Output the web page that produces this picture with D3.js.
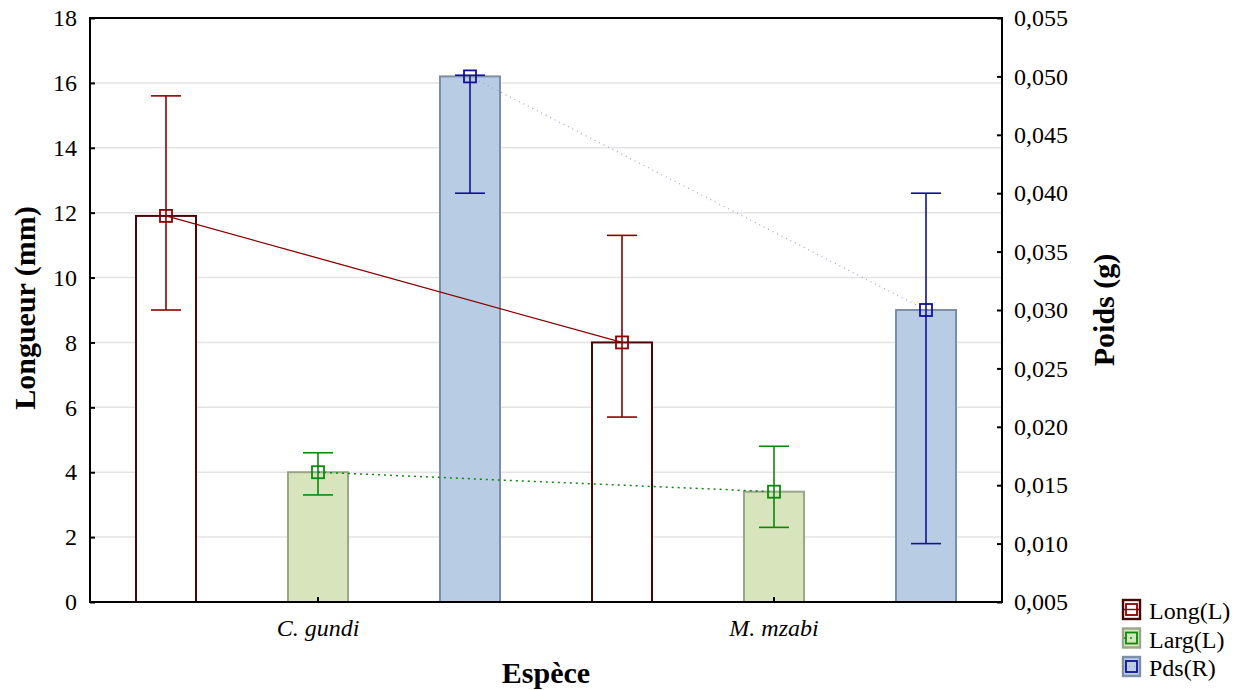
<!DOCTYPE html>
<html>
<head>
<meta charset="utf-8">
<script src="https://cdn.jsdelivr.net/npm/d3@7"></script>
<style>
  html, body { margin: 0; padding: 0; background: #fff; }
  svg { display: block; font-family: "Liberation Serif", "Times New Roman", serif; }
  svg text { font-family: "Liberation Serif", "Times New Roman", serif; }
</style>
</head>
<body>
<svg id="chart" width="1246" height="690"></svg>
<script>
// Species on the x axis
const species = ["C. gundi", "M. mzabi"];
// Series (L = left axis, R = right axis)
const seriesNames = ["Long(L)", "Larg(L)", "Pds(R)"];

// Length (mm): mean and error interval
const longMean = [11.9, 8.0];
const longLow  = [9.0, 5.7];
const longHigh = [15.6, 11.3];

// Width (mm): mean and error interval
const largMean = [4.0, 3.4];
const largLow  = [3.3, 2.3];
const largHigh = [4.6, 4.8];

// Weight (g): mean and error interval
const pdsMean = [0.0500, 0.0300];
const pdsLow  = [0.0400, 0.0100];
const pdsHigh = [0.0501, 0.0400];

// Axis ticks
const leftTicks  = [0, 2, 4, 6, 8, 10, 12, 14, 16, 18];
const rightTicks = [0.005, 0.010, 0.015, 0.020, 0.025, 0.030, 0.035, 0.040, 0.045, 0.050, 0.055];

const svg = d3.select("#chart");
const m = { left: 90, right: 1002, top: 18, bottom: 602 };

const x = d3.scaleBand().domain(species).range([m.left, m.right]).padding(0);
const xs = d3.scaleBand().domain(seriesNames).range([0, x.bandwidth()]).padding(0);
const yL = d3.scaleLinear().domain([0, 18]).range([m.bottom, m.top]);
const yR = d3.scaleLinear().domain([0.005, 0.055]).range([m.bottom, m.top]);

const barW = 60, capW = 30, mk = 12;

const series = [
  { name: "Long(L)", mean: longMean, low: longLow, high: longHigh, y: yL,
    fill: "#ffffff", stroke: "#4a0606", line: "#8b0000", dash: null, conn: "#8b0000", connW: 1.3 },
  { name: "Larg(L)", mean: largMean, low: largLow, high: largHigh, y: yL,
    fill: "#d8e4bc", stroke: "#9ba58a", line: "#0a8a0a", dash: "2,4", conn: "#0a8a0a", connW: 1.5 },
  { name: "Pds(R)", mean: pdsMean, low: pdsLow, high: pdsHigh, y: yR,
    fill: "#b8cce4", stroke: "#7d8fa8", line: "#10109a", dash: "1,4", conn: "#9fa0d8", connW: 1.2 }
];

const cx = (sp, name) => x(sp) + xs(name) + xs.bandwidth() / 2;

// Horizontal grid lines
svg.append("g").selectAll("line")
  .data(leftTicks.filter(t => t > 0 && t < 18))
  .join("line")
  .attr("x1", m.left).attr("x2", m.right)
  .attr("y1", d => yL(d)).attr("y2", d => yL(d))
  .attr("stroke", "#e3e3e3").attr("stroke-width", 1.5);

// Bars
series.forEach(s => {
  svg.append("g").selectAll("rect")
    .data(species.map((sp, i) => ({ sp, v: s.mean[i] })))
    .join("rect")
    .attr("x", d => cx(d.sp, s.name) - barW / 2)
    .attr("y", d => s.y(d.v))
    .attr("width", barW)
    .attr("height", d => m.bottom - s.y(d.v))
    .attr("fill", s.fill)
    .attr("stroke", s.stroke)
    .attr("stroke-width", 2);
});

// Connecting lines between species means
series.forEach(s => {
  const line = d3.line().x(d => d[0]).y(d => d[1]);
  svg.append("path")
    .attr("d", line(species.map((sp, i) => [cx(sp, s.name), s.y(s.mean[i])])))
    .attr("fill", "none")
    .attr("stroke", s.conn)
    .attr("stroke-width", s.connW)
    .attr("stroke-dasharray", s.dash);
});

// Error bars and mean markers
series.forEach(s => {
  const g = svg.append("g").attr("stroke", s.line).attr("fill", "none").attr("stroke-width", 1.6);
  species.forEach((sp, i) => {
    const px = cx(sp, s.name);
    g.append("line").attr("x1", px).attr("x2", px)
      .attr("y1", s.y(s.low[i])).attr("y2", s.y(s.high[i]));
    [s.low[i], s.high[i]].forEach(v => {
      g.append("line").attr("x1", px - capW / 2).attr("x2", px + capW / 2)
        .attr("y1", s.y(v)).attr("y2", s.y(v));
    });
    g.append("rect").attr("x", px - mk / 2).attr("y", s.y(s.mean[i]) - mk / 2)
      .attr("width", mk).attr("height", mk).attr("stroke-width", 1.8);
  });
});

// Plot frame
svg.append("rect")
  .attr("x", m.left).attr("y", m.top)
  .attr("width", m.right - m.left).attr("height", m.bottom - m.top)
  .attr("fill", "none").attr("stroke", "#000").attr("stroke-width", 2);

// Axes (ticks point inward)
const tickFont = g => {
  g.attr("font-family", null).attr("font-size", null);
  g.selectAll("text").attr("font-size", 24).attr("fill", "#000");
};

const axL = svg.append("g").attr("transform", `translate(${m.left},0)`)
  .call(d3.axisLeft(yL).tickValues(leftTicks).tickSize(-5).tickPadding(13).tickFormat(d3.format("d")));
axL.select(".domain").remove();
axL.selectAll(".tick line").attr("stroke-width", 2);
tickFont(axL);

const fmtR = v => d3.format(".3f")(v).replace(".", ",");
const axR = svg.append("g").attr("transform", `translate(${m.right},0)`)
  .call(d3.axisRight(yR).tickValues(rightTicks).tickSize(-5).tickPadding(12).tickFormat(fmtR));
axR.select(".domain").remove();
axR.selectAll(".tick line").attr("stroke-width", 2);
tickFont(axR);

const axB = svg.append("g").attr("transform", `translate(0,${m.bottom})`)
  .call(d3.axisBottom(x).tickSize(-5).tickPadding(17));
axB.select(".domain").remove();
axB.selectAll(".tick line").attr("stroke-width", 2);
tickFont(axB);
axB.selectAll("text").attr("font-style", "italic");

// Axis titles
svg.append("text")
  .attr("transform", "translate(35,308) rotate(-90)")
  .attr("text-anchor", "middle").attr("font-weight", "bold").attr("font-size", 30)
  .text("Longueur (mm)");
svg.append("text")
  .attr("transform", "translate(1114,310) rotate(-90)")
  .attr("text-anchor", "middle").attr("font-weight", "bold").attr("font-size", 30)
  .text("Poids (g)");
svg.append("text")
  .attr("x", 546).attr("y", 683)
  .attr("text-anchor", "middle").attr("font-weight", "bold").attr("font-size", 30)
  .text("Espèce");

// Legend
const leg = svg.append("g").attr("transform", "translate(1123,600)");
series.forEach((s, i) => {
  const gy = i * 28.5;
  const g = leg.append("g").attr("transform", `translate(0,${gy})`);
  g.append("rect").attr("x", 0).attr("y", 0).attr("width", 17).attr("height", 19)
    .attr("fill", s.fill).attr("stroke", s.stroke).attr("stroke-width", 2.4);
  g.append("line").attr("x1", 1).attr("x2", 16).attr("y1", 9.5).attr("y2", 9.5)
    .attr("stroke", s.conn).attr("stroke-width", 1.4).attr("stroke-dasharray", s.dash);
  g.append("rect").attr("x", 3).attr("y", 4).attr("width", 11).attr("height", 11)
    .attr("fill", "none").attr("stroke", s.line).attr("stroke-width", 1.8);
  g.append("text").attr("x", 26).attr("y", 19)
    .attr("font-size", 24).attr("fill", "#000").text(s.name);
});
</script>
</body>
</html>
